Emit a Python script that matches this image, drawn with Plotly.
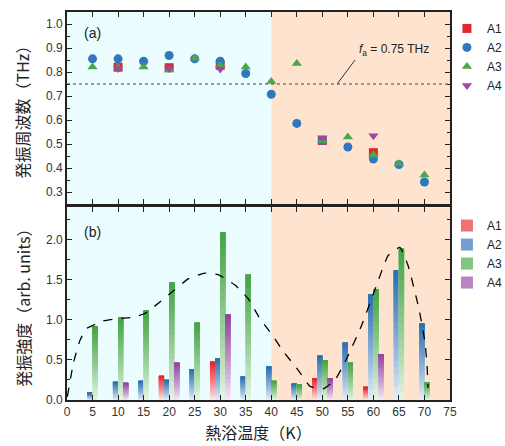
import plotly.graph_objects as go

# ---------------- data ----------------
temps = [5, 10, 15, 20, 25, 30, 35, 40, 45, 50, 55, 60, 65, 70]

# (a) oscillation frequency (THz)
freq_A1 = [None, 0.82, None, 0.818, None, 0.828, None, None, None, 0.515, None, 0.464, None, None]
freq_A2 = [0.855, 0.855, 0.845, 0.869, 0.855, 0.845, 0.794, 0.707, 0.586, 0.515, 0.4875, 0.4375, 0.415, 0.342]
freq_A3 = [0.821, 0.82, 0.821, 0.808, 0.857, 0.828, 0.821, 0.761, 0.835, 0.514, 0.529, 0.455, 0.418, 0.371]
freq_A4 = [None, 0.815, None, 0.815, None, 0.8125, None, None, None, 0.526, None, 0.535, None, None]
FA = 0.75

# (b) oscillation intensity (arb. units)
amp_A1 = [None, None, None, 0.30, None, 0.475, None, None, None, 0.27, None, 0.16, None, None]
amp_A2 = [0.09, 0.223, 0.236, 0.248, 0.385, 0.517, 0.29, 0.418, 0.203, 0.55, 0.711, 1.315, 1.613, 0.951]
amp_A3 = [0.92, 1.026, 1.117, 1.468, 0.96, 2.09, 1.56, 0.236, 0.19, 0.496, 0.463, 1.381, 1.882, 0.215]
amp_A4 = [None, 0.21, None, 0.463, None, 1.063, None, None, None, 0.27, None, 0.571, None, None]

# dashed guide curve
guide_x = [0.06, 1.24, 2.55, 3.85, 5.15, 7.1, 10.05, 13.0, 15.3, 18.2, 20.1, 23.8, 27.0, 29.6, 32.9, 35.5,
           37.8, 40.2, 42.4, 45.3, 47.6, 50.2, 52.5, 54.8, 57.7, 60.4, 62.9, 65.2, 66.8, 68.9, 70.1, 70.5, 70.7]
guide_y = [0.04, 0.455, 0.745, 0.89, 0.93, 0.985, 1.015, 1.03, 1.08, 1.22, 1.32, 1.51, 1.58, 1.56, 1.43, 1.26,
           1.01, 0.81, 0.60, 0.37, 0.17, 0.14, 0.25, 0.52, 0.93, 1.39, 1.80, 1.90, 1.67, 1.14, 0.72, 0.43, 0.15]

series = ["A1", "A2", "A3", "A4"]
freqs = [freq_A1, freq_A2, freq_A3, freq_A4]
amps = [amp_A1, amp_A2, amp_A3, amp_A4]

# ---------------- style ----------------
mcolors = ["#e2262b", "#2f78be", "#4aa84c", "#994a9f"]
msymbols = ["square", "circle", "triangle-up", "triangle-down"]
dark = ["#e8272c", "#2f6fb3", "#46a546", "#9346a0"]
light = ["#fde6e6", "#e0edf8", "#e0f4e0", "#f3e5f5"]
offsets = [-2, -1, 0, 1]
NSEG = 20
FONT = "Arial, Liberation Sans, sans-serif"
CJK = "Noto Sans CJK JP"


def hex2rgb(h):
    h = h.lstrip("#")
    return [int(h[i:i + 2], 16) for i in (0, 2, 4)]


def mix(c1, c2, t):
    a, b = hex2rgb(c1), hex2rgb(c2)
    return "rgb(%d,%d,%d)" % tuple(round(a[i] + (b[i] - a[i]) * t) for i in range(3))


fig = go.Figure()

# (a) scatter
for i, s in enumerate(series):
    fig.add_trace(go.Scatter(
        x=temps, y=freqs[i], mode="markers", name=s,
        marker=dict(symbol=msymbols[i], color=mcolors[i], size=9, line=dict(width=0)),
        xaxis="x", yaxis="y", legend="legend"))

# (b) gradient bars: each layer spans from its level up to the bar top, later layers overlay earlier ones
for i, s in enumerate(series):
    vals = amps[i]
    for k in range(NSEG):
        t = k / (NSEG - 1)
        col = mix(light[i], dark[i], t ** 0.9)
        base = [None if v is None else v * k / NSEG for v in vals]
        seg = [None if v is None else v * (NSEG - k) / NSEG for v in vals]
        show = (k == int(NSEG * 0.55))
        fig.add_trace(go.Bar(
            x=temps, y=seg, base=base, width=1, offset=offsets[i],
            marker=dict(color=col, line=dict(width=0)),
            name=s, showlegend=show, legend="legend2",
            xaxis="x2", yaxis="y2", hoverinfo="skip"))

fig.add_trace(go.Scatter(
    x=guide_x, y=guide_y, mode="lines",
    line=dict(color="black", width=1.3, dash="dash", shape="spline", smoothing=0.4),
    showlegend=False, xaxis="x2", yaxis="y2"))

# backgrounds
shapes = []
for xr, yr in (("x", "y"), ("x2", "y2")):
    shapes.append(dict(type="rect", xref=xr, yref=yr + " domain", x0=0, x1=40, y0=0, y1=1,
                       fillcolor="#ebfdfe", line=dict(width=0), layer="below"))
    shapes.append(dict(type="rect", xref=xr, yref=yr + " domain", x0=40, x1=75, y0=0, y1=1,
                       fillcolor="#fee4ce", line=dict(width=0), layer="below"))
shapes.append(dict(type="line", xref="x", yref="y", x0=0, x1=75, y0=FA, y1=FA,
                   line=dict(color="#444", width=1.2, dash="dot")))
shapes.append(dict(type="line", xref="x", yref="y", x0=52.9, x1=56.4, y0=FA, y1=0.85,
                   line=dict(color="#333", width=1)))

annotations = [
    dict(x=56.8, y=0.89, xref="x", yref="y", text="<i>f</i><sub>a</sub> = 0.75 THz", showarrow=False,
         xanchor="left", yanchor="middle", font=dict(family=FONT, size=12, color="#222")),
    dict(x=3.0, y=0.963, xref="x", yref="y", text="(a)", showarrow=False, xanchor="left",
         font=dict(family=FONT, size=14, color="#222")),
    dict(x=3.0, y=2.09, xref="x2", yref="y2", text="(b)", showarrow=False, xanchor="left",
         font=dict(family=FONT, size=14, color="#222")),
]

axis_common = dict(showline=True, linecolor="#222", linewidth=1.6, mirror="allticks", ticks="inside",
                   ticklen=5, tickwidth=1.2, tickcolor="#222", showgrid=False, zeroline=False,
                   tickfont=dict(family=FONT, size=12, color="#333"))

fig.update_layout(
    width=505, height=446,
    margin=dict(l=67, r=55, t=12, b=46, autoexpand=False),
    paper_bgcolor="white", plot_bgcolor="white",
    barmode="overlay",
    shapes=shapes, annotations=annotations,
    xaxis=dict(domain=[0, 1], range=[0, 75], dtick=5, tick0=0, showticklabels=False, anchor="y", **axis_common),
    yaxis=dict(domain=[0.505, 1], range=[0.25, 1.05], dtick=0.1, tickformat=".1f", anchor="x",
               minor=dict(dtick=0.05, ticklen=3, ticks="inside", tickcolor="#222"),
               title=dict(text="発振周波数（THz）", font=dict(family=CJK, size=16, color="#222"), standoff=12),
               **axis_common),
    xaxis2=dict(domain=[0, 1], range=[0, 75], dtick=5, tick0=0, anchor="y2",
                title=dict(text="熱浴温度（K）", font=dict(family=CJK, size=16, color="#222"), standoff=10),
                **axis_common),
    yaxis2=dict(domain=[0, 0.497], range=[0, 2.4], dtick=0.5, tickformat=".1f", anchor="x2",
                minor=dict(dtick=0.25, ticklen=3, ticks="inside", tickcolor="#222"),
                title=dict(text="発振強度（arb. units）", font=dict(family=CJK, size=16, color="#222"), standoff=12),
                **axis_common),
    legend=dict(x=0.992, y=0.995, xanchor="left", yanchor="top", bgcolor="rgba(0,0,0,0)",
                font=dict(family=FONT, size=12, color="#222"), itemwidth=30, tracegroupgap=0),
    legend2=dict(x=0.992, y=0.487, xanchor="left", yanchor="top", bgcolor="rgba(0,0,0,0)",
                 font=dict(family=FONT, size=12, color="#222"), itemwidth=30, tracegroupgap=0),
)

fig.write_html("out.html", config={"displayModeBar": False},
               post_script="document.body.style.margin='0px';")
